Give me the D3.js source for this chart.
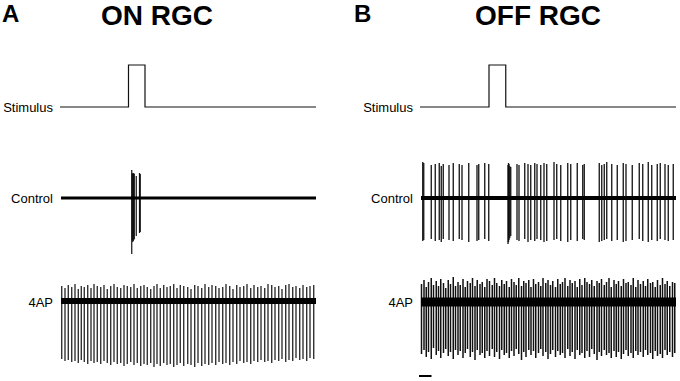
<!DOCTYPE html>
<html>
<head>
<meta charset="utf-8">
<script src="https://cdn.jsdelivr.net/npm/d3@7"></script>
<style>
  body { margin: 0; background: #fff; }
  svg { display: block; font-family: Arial, "Liberation Sans", Helvetica, sans-serif; }
  .panel-letter { font-weight: bold; font-size: 24px; }
  .panel-title { font-weight: bold; font-size: 28px; }
  .row-label { font-size: 13px; }
</style>
</head>
<body>
<svg id="chart" width="680" height="381"></svg>
<script>
// ---- data (time in s, amplitudes in arbitrary units above/below baseline) ----
const traceDuration = 10.2;
const stimOnsetA = 2.70, stimOffsetA = 3.36;
const stimOnsetB = 2.72, stimOffsetB = 3.39;
const scaleBarSeconds = [-0.08, 0.42];

// ON RGC, control: brief burst at light onset
const onControlTimes = [2.83, 2.85, 2.87, 2.89, 2.91, 2.93, 3.01, 3.14, 3.17];
const onControlTops = [28, 24, 25, 24, 25, 24, 22, 25, 24];
const onControlBottoms = [56, 42, 44, 43, 42, 41, 38, 35, 34];

// ON RGC, 4AP: regular tonic firing
const on4apTimes = [
  0.03,0.16,0.29,0.43,0.56,0.69,0.81,0.93,1.07,1.20,1.32,1.45,1.59,1.72,1.85,
  1.99,2.12,2.25,2.39,2.52,2.65,2.79,2.92,3.05,3.19,3.32,3.45,3.59,3.72,3.84,
  3.97,4.11,4.24,4.37,4.51,4.64,4.77,4.91,5.07,5.20,5.35,5.48,5.63,5.76,5.91,
  6.04,6.19,6.32,6.47,6.60,6.75,6.88,7.03,7.16,7.31,7.44,7.59,7.72,7.87,8.00,
  8.15,8.28,8.43,8.56,8.71,8.84,8.99,9.12,9.27,9.40,9.55,9.68,9.83,9.96,10.11
];
const on4apTops = [
  15,13,16,14,17,12,15,14,16,13,17,15,14,16,12,
  15,17,14,13,16,15,14,17,13,15,16,14,12,15,17,
  13,16,14,15,17,13,16,15,14,12,16,15,13,17,14,
  16,15,13,14,17,15,12,16,14,15,17,13,16,14,15,
  13,17,16,14,15,12,16,17,14,15,13,16,14,15,16
];
const on4apBottoms = [
  58,60,59,61,60,62,59,61,63,60,62,61,63,60,62,
  64,61,63,62,65,63,61,64,62,65,63,64,62,66,63,
  65,62,64,63,66,64,62,65,63,64,66,62,65,63,64,
  62,64,61,63,62,64,61,63,60,62,61,63,60,61,59,
  61,60,62,59,60,58,61,59,60,57,59,58,60,57,58
];

// OFF RGC, control: spontaneous firing, pause during light, burst at offset
const offControlTimes = [
  0.07,0.11,0.41,0.57,0.73,0.81,0.89,1.12,1.29,1.53,1.64,1.91,2.24,2.31,2.55,2.71,
  3.48,3.50,3.52,3.55,3.59,
  3.84,3.92,4.15,4.28,4.39,4.55,4.64,4.79,4.92,5.03,
  5.32,5.43,5.59,5.87,5.99,6.25,6.47,6.53,7.13,7.23,
  7.33,7.43,7.63,7.85,8.09,8.20,8.45,8.73,8.87,9.09,
  9.23,9.45,9.57,9.76,9.89,10.09
];
const offControlTops = [
  36,35,33,34,35,32,34,33,35,34,33,35,33,34,35,34,
  33,35,34,32,31,
  34,33,35,34,33,35,34,33,35,34,
  36,34,33,35,34,35,33,34,35,33,
  34,36,34,33,35,34,33,35,34,36,
  33,34,35,34,33,34
];
const offControlBottoms = [
  43,42,41,43,42,44,41,42,43,41,42,44,43,42,41,43,
  46,44,42,40,38,
  42,43,41,44,42,43,41,42,44,43,
  42,41,43,44,42,43,41,42,44,43,
  42,41,43,42,44,43,42,41,43,44,
  42,43,41,42,43,42
];

// OFF RGC, 4AP: dense high-frequency firing
const off4apTimes = [
  0.02,0.12,0.21,0.30,0.41,0.50,0.61,0.70,0.79,0.90,0.99,1.09,1.18,1.29,1.38,
  1.48,1.57,1.68,1.77,1.86,1.97,2.06,2.16,2.25,2.36,2.45,2.55,2.64,2.74,2.85,
  2.94,3.03,3.14,3.23,3.33,3.42,3.53,3.62,3.72,3.81,3.91,4.02,4.11,4.20,4.31,
  4.40,4.50,4.59,4.70,4.79,4.88,4.99,5.08,5.18,5.27,5.38,5.47,5.57,5.66,5.76,
  5.87,5.96,6.05,6.16,6.25,6.35,6.44,6.55,6.64,6.74,6.83,6.93,7.04,7.13,7.22,
  7.33,7.42,7.52,7.61,7.72,7.81,7.90,8.01,8.10,8.20,8.29,8.40,8.49,8.59,8.68,
  8.78,8.89,8.98,9.07,9.18,9.27,9.37,9.46,9.57,9.66,9.76,9.85,9.95,10.06,10.15
];
const off4apTops = [
  18,22,15,20,24,17,21,16,23,19,14,22,18,25,16,
  20,17,23,15,21,19,24,16,22,18,20,15,23,21,17,
  24,19,16,22,18,21,15,23,20,17,24,16,21,19,22,
  15,23,18,20,16,24,19,22,17,21,15,23,18,20,24,
  16,22,19,21,15,23,17,24,20,18,22,16,21,19,23,
  17,20,24,15,22,18,21,16,23,19,20,17,24,15,22,
  18,21,16,23,19,20,15,22,17,24,18,21,16,20,19
];
const off4apBottoms = [
  52,48,55,50,57,46,53,49,56,51,47,54,50,57,48,
  53,49,56,51,47,55,50,58,48,53,51,56,49,54,47,
  55,50,57,48,53,51,56,49,54,47,52,58,50,55,48,
  53,49,56,51,47,54,50,57,52,48,55,49,53,51,56,
  47,54,50,57,48,53,51,56,49,55,47,52,58,50,54,
  48,53,51,56,49,55,50,57,52,48,54,51,56,49,53,
  50,55,48,53,51,57,49,54,52,56,48,53,50,55,51
];

// ---- layout ----
const svg = d3.select('#chart');

const xA = d3.scaleLinear().domain([0, traceDuration]).range([61, 316]);
const xB = d3.scaleLinear().domain([0, traceDuration]).range([421, 676]);

// 1 unit of amplitude = 1 px
const yAmp = d3.scaleLinear().domain([-80, 80]).range([80, -80]);
const yStim = d3.scaleLinear().domain([0, 1]).range([0, -42]);

const rows = { stim: 107, control: 198, ap: 302 };

// headers
svg.append('text').attr('class', 'panel-letter').attr('x', 2).attr('y', 22).text('A');
svg.append('text').attr('class', 'panel-letter').attr('x', 354).attr('y', 22).text('B');
svg.append('text').attr('class', 'panel-title').attr('x', 157).attr('y', 25)
  .attr('text-anchor', 'middle').text('ON RGC');
svg.append('text').attr('class', 'panel-title').attr('x', 538).attr('y', 25)
  .attr('text-anchor', 'middle').text('OFF RGC');

function rowLabel(x, y, txt) {
  svg.append('text').attr('class', 'row-label')
    .attr('x', x).attr('y', y + 4.5)
    .attr('text-anchor', 'end')
    .text(txt);
}

function drawStimulus(x, onset, offset) {
  const g = svg.append('g').attr('transform', `translate(0, ${rows.stim})`);
  const pts = [
    { t: -0.04, v: 0 },
    { t: onset, v: 1 },
    { t: offset, v: 0 },
    { t: traceDuration, v: 0 }
  ];
  const line = d3.line()
    .x(d => x(d.t))
    .y(d => yStim(d.v))
    .curve(d3.curveStepAfter);
  g.append('path')
    .datum(pts)
    .attr('d', line)
    .attr('fill', 'none')
    .attr('stroke', '#111')
    .attr('stroke-width', 1.2);
}

function drawTrace(x, baseY, times, tops, bottoms, bandWidth, spikeWidth) {
  const g = svg.append('g').attr('transform', `translate(0, ${baseY})`);
  const spikes = times.map((t, i) => ({ t: t, up: tops[i], down: bottoms[i] }));

  g.selectAll('.spike')
    .data(spikes)
    .join('line')
    .attr('class', 'spike')
    .attr('x1', d => x(d.t))
    .attr('x2', d => x(d.t))
    .attr('y1', d => yAmp(d.up))
    .attr('y2', d => yAmp(-d.down))
    .attr('stroke', '#111')
    .attr('stroke-width', spikeWidth);

  // baseline (noise band)
  g.append('line')
    .attr('x1', x(0)).attr('x2', x(traceDuration))
    .attr('y1', yAmp(0)).attr('y2', yAmp(0))
    .attr('stroke', '#000')
    .attr('stroke-width', bandWidth);
}

// Panel A
rowLabel(53, rows.stim, 'Stimulus');
drawStimulus(xA, stimOnsetA, stimOffsetA);
rowLabel(53, rows.control, 'Control');
drawTrace(xA, rows.control, onControlTimes, onControlTops, onControlBottoms, 3, 1.2);
rowLabel(53, rows.ap, '4AP');
drawTrace(xA, rows.ap - 1, on4apTimes, on4apTops, on4apBottoms, 6, 1.2);

// Panel B
rowLabel(413, rows.stim, 'Stimulus');
drawStimulus(xB, stimOnsetB, stimOffsetB);
rowLabel(413, rows.control, 'Control');
drawTrace(xB, rows.control, offControlTimes, offControlTops, offControlBottoms, 4, 1.3);
rowLabel(413, rows.ap, '4AP');
drawTrace(xB, rows.ap, off4apTimes, off4apTops, off4apBottoms, 9, 1.5);

// time scale bar
svg.append('line')
  .attr('x1', xB(scaleBarSeconds[0])).attr('x2', xB(scaleBarSeconds[1]))
  .attr('y1', 376).attr('y2', 376)
  .attr('stroke', '#000')
  .attr('stroke-width', 2);
</script>
</body>
</html>
